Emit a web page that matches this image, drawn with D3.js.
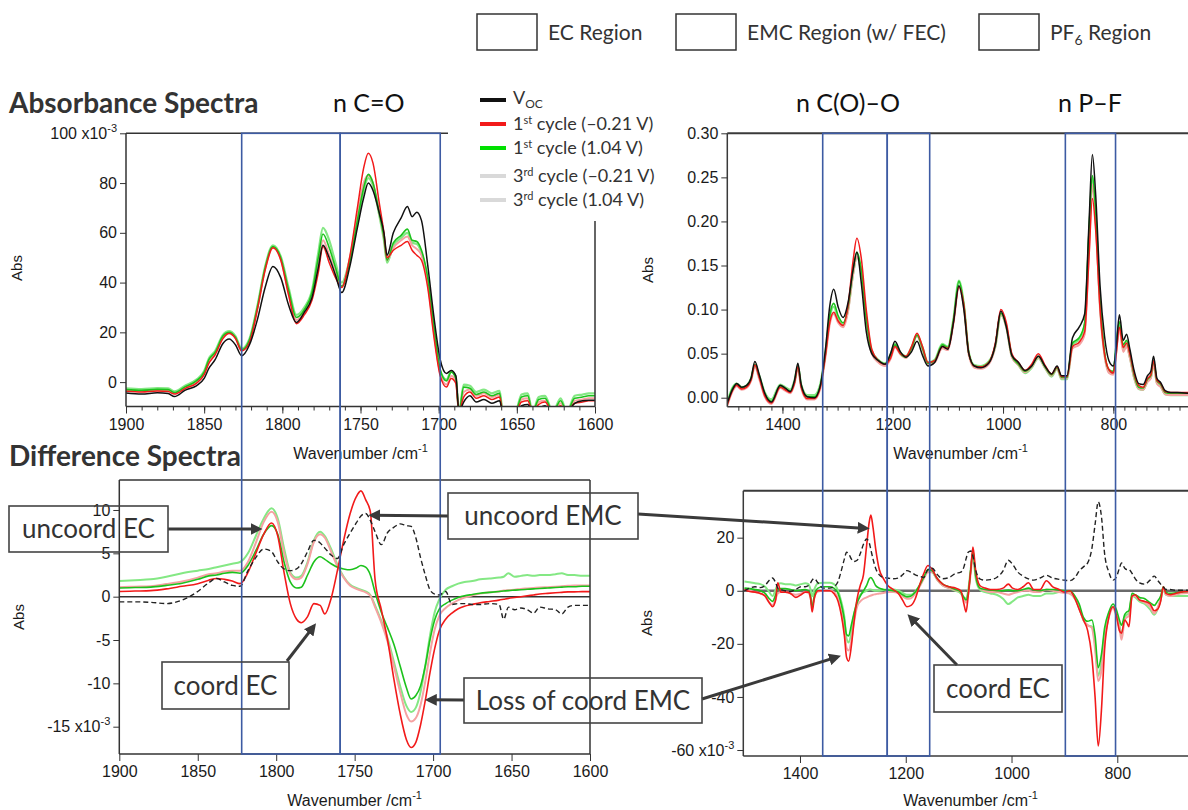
<!DOCTYPE html>
<html>
<head>
<meta charset="utf-8">
<script src="https://cdn.jsdelivr.net/npm/d3@7"></script>
<style>
  body { margin: 0; background: #fff; }
  svg text { font-family: "Liberation Sans", Arial, sans-serif; }
  svg text.cal { font-family: Lato, "Open Sans", sans-serif; }
</style>
</head>
<body>
<svg id="fig" width="1188" height="810"></svg>
<script>
(function () {
  'use strict';

  // ---- absorbance, C=O stretch region (x10^-3) ----
  var absCOWn = [
    1900, 1890, 1880, 1873, 1869, 1862, 1855, 1850, 1847, 1843,
    1838, 1834, 1830, 1826, 1821, 1816, 1811, 1806, 1801, 1796,
    1791, 1786, 1781, 1777, 1774, 1770, 1766, 1762, 1757, 1752,
    1748, 1745, 1742, 1738, 1735, 1733, 1729, 1724, 1720, 1717,
    1714, 1711, 1707, 1703, 1699, 1695, 1692, 1689, 1687, 1684,
    1680, 1676, 1671, 1666, 1661, 1659, 1656, 1651, 1647, 1643,
    1640, 1636, 1632, 1627, 1622, 1618, 1613, 1608, 1604, 1600];
  var absVoc = [
    -4.4, -4.8, -4.3, -4.6, -5.8, -3.2, -1.5, 1.5, 5.5, 9,
    15.5, 17.3, 15, 10.6, 15, 25, 38, 46.5, 42, 31,
    24, 28, 34, 46, 55, 50, 43, 36, 46, 62,
    74, 80, 77, 68, 60, 51, 60, 66, 70.6, 66.5,
    68.3, 65, 47, 26, 9, 3.5, 4.7, 2.5, -12, -8,
    -5.5, -8, -7, -8.5, -7.5, -12, -12, -12, -9.5, -9,
    -12, -10.5, -9.5, -12, -11, -12, -8.5, -7.5, -7.3, -7.3];
  var abs1Neg = [
    -3.7, -4.0, -3.6, -3.8, -4.8, -2.5, -0.5, 3, 7.5, 11,
    17.5, 19.5, 17.5, 12.5, 16, 29, 45, 54, 49, 35,
    23.5, 27, 33, 44, 54.5, 48, 42, 38, 50, 70,
    86, 92, 88, 72, 60, 50, 53, 55, 56.5, 53,
    51, 49, 38, 18, 2.5, -2, 1.5, -0.5, -12, -6,
    -4, -6.5, -5.5, -7, -6, -12, -12, -12, -8, -7.5,
    -12, -9, -8, -12, -9.5, -12, -8.5, -8, -7.5, -7.5];
  var abs1Pos = [
    -3, -3.3, -2.9, -3, -4.2, -1.8, 0.5, 4, 9, 12,
    18.5, 20, 18, 13, 17, 30, 46, 54.5, 50, 37,
    26, 29, 36, 50, 59.5, 54, 46, 38.5, 48, 65,
    78, 83.5, 80, 68, 58, 49, 56, 59, 61.5, 57,
    56.5, 53, 42, 22, 5, 0.5, 4, 1.5, -12, -2,
    -2.5, -5, -4, -5.5, -4.5, -12, -12, -12, -6, -5.5,
    -12, -7, -6.5, -12, -7.5, -12, -6.5, -6, -5.5, -5.5];
  var abs3Neg = [
    -3.4, -3.7, -3.3, -3.5, -4.5, -2.2, 0, 3.5, 8.5, 11.5,
    18, 19.8, 17.8, 13, 16.5, 29.5, 45.5, 54, 49.5, 36,
    25, 28, 34.5, 47, 57, 51, 44, 38.5, 49, 67,
    80, 83, 80, 68, 58, 49, 54, 57, 58.5, 55,
    53.5, 51, 40, 20, 3.5, -1, 2.5, 0.5, -12, -4,
    -3, -5.5, -4.5, -6, -5, -12, -12, -12, -7, -6.5,
    -12, -8, -7.5, -12, -8.5, -12, -7.5, -7, -6.5, -6.5];
  var abs3Pos = [
    -2.5, -2.8, -2.4, -2.5, -3.7, -1.3, 1, 4.5, 9.5, 12.5,
    19, 20.5, 18.5, 13.5, 17.5, 30.5, 46.5, 55, 50.5, 38,
    27, 30, 37, 52, 62, 57, 48, 40, 49, 64,
    77, 82, 79, 67, 57, 48, 55, 58, 60, 56,
    55.5, 52, 41, 21, 4.5, 1, 4.5, 2, -12, -1,
    -1.5, -4, -3, -4.5, -3.5, -12, -12, -12, -5, -4.5,
    -12, -6, -5.5, -12, -6.5, -12, -5.5, -5, -4.5, -4.5];

  // ---- absorbance, C(O)-O / P-F region ----
  var absFpWn = [
    1500, 1490, 1483, 1474, 1465, 1457, 1450, 1442, 1432, 1420,
    1404, 1395, 1386, 1378, 1372, 1366, 1355, 1342, 1332, 1322,
    1314, 1307, 1299, 1290, 1281, 1272, 1265, 1257, 1248, 1238,
    1226, 1214, 1204, 1196, 1186, 1176, 1166, 1156, 1146, 1136,
    1124, 1110, 1100, 1090, 1080, 1071, 1062, 1052, 1040, 1026,
    1014, 1004, 994, 984, 972, 960, 948, 936, 924, 912,
    902, 894, 884, 874, 862, 852, 844, 838, 832, 824,
    816, 808, 800, 795, 789, 782, 776, 770, 762, 754,
    746, 738, 732, 727, 721, 714, 706, 696, 684, 664];
  var fpVoc = [
    -0.006, 0.01, 0.016, 0.012, 0.014, 0.022, 0.041, 0.026, 0.005, -0.005,
    0.014, 0.011, 0.007, 0.02, 0.039, 0.015, 0.001, 0.0, 0.012, 0.055,
    0.105, 0.123, 0.103, 0.091, 0.108, 0.145, 0.165, 0.13, 0.075, 0.05,
    0.042, 0.038, 0.05, 0.064, 0.052, 0.046, 0.052, 0.064, 0.048, 0.036,
    0.04, 0.058, 0.055, 0.085, 0.127, 0.1, 0.05, 0.036, 0.034, 0.039,
    0.06, 0.098, 0.08, 0.048, 0.04, 0.031, 0.036, 0.047, 0.036, 0.027,
    0.036, 0.025, 0.025, 0.068, 0.08, 0.095, 0.2, 0.276, 0.23, 0.126,
    0.07, 0.042, 0.036, 0.055, 0.094, 0.065, 0.072, 0.055, 0.03, 0.016,
    0.015, 0.025, 0.03, 0.047, 0.022, 0.017, 0.008, 0.006, 0.006, 0.005];
  var fp1Neg = [
    -0.008, 0.009, 0.014, 0.01, 0.012, 0.02, 0.037, 0.023, 0.002, -0.006,
    0.012, 0.009, 0.006, 0.017, 0.035, 0.012, -0.001, -0.001, 0.01, 0.048,
    0.086, 0.097, 0.087, 0.082, 0.105, 0.155, 0.181, 0.158, 0.1, 0.055,
    0.042, 0.038, 0.045, 0.058, 0.05, 0.047, 0.058, 0.073, 0.058, 0.04,
    0.042, 0.058, 0.056, 0.085, 0.126, 0.105, 0.05, 0.036, 0.035, 0.04,
    0.062, 0.1, 0.085, 0.05, 0.04, 0.031, 0.038, 0.05, 0.037, 0.027,
    0.035, 0.024, 0.024, 0.058, 0.063, 0.075, 0.16, 0.226, 0.19, 0.1,
    0.05, 0.032, 0.028, 0.048, 0.08, 0.057, 0.062, 0.05, 0.027, 0.014,
    0.012, 0.022, 0.026, 0.042, 0.02, 0.016, 0.007, 0.006, 0.006, 0.006];
  var fp1Pos = [
    -0.007, 0.011, 0.015, 0.011, 0.013, 0.021, 0.038, 0.024, 0.004, -0.004,
    0.013, 0.01, 0.007, 0.018, 0.036, 0.013, 0.001, 0.001, 0.012, 0.05,
    0.094, 0.107, 0.093, 0.085, 0.103, 0.145, 0.165, 0.145, 0.09, 0.052,
    0.042, 0.038, 0.048, 0.06, 0.05, 0.046, 0.056, 0.071, 0.056, 0.039,
    0.042, 0.06, 0.057, 0.088, 0.132, 0.105, 0.05, 0.036, 0.035, 0.04,
    0.06, 0.096, 0.082, 0.048, 0.038, 0.03, 0.036, 0.047, 0.035, 0.026,
    0.034, 0.023, 0.023, 0.062, 0.068, 0.085, 0.19, 0.252, 0.21, 0.11,
    0.052, 0.032, 0.03, 0.06, 0.086, 0.06, 0.065, 0.05, 0.025, 0.012,
    0.011, 0.021, 0.025, 0.042, 0.019, 0.015, 0.006, 0.005, 0.005, 0.005];
  var fp3Neg = [
    -0.009, 0.008, 0.013, 0.009, 0.011, 0.019, 0.035, 0.021, 0.001, -0.007,
    0.011, 0.008, 0.005, 0.016, 0.033, 0.011, -0.002, -0.002, 0.009, 0.046,
    0.084, 0.095, 0.085, 0.08, 0.098, 0.14, 0.16, 0.14, 0.088, 0.05,
    0.04, 0.036, 0.044, 0.057, 0.049, 0.045, 0.056, 0.07, 0.055, 0.038,
    0.04, 0.056, 0.054, 0.084, 0.125, 0.102, 0.048, 0.034, 0.033, 0.038,
    0.058, 0.095, 0.08, 0.046, 0.037, 0.029, 0.035, 0.046, 0.034, 0.025,
    0.033, 0.022, 0.022, 0.056, 0.06, 0.072, 0.17, 0.242, 0.2, 0.1,
    0.048, 0.028, 0.026, 0.05, 0.078, 0.052, 0.058, 0.045, 0.022, 0.01,
    0.009, 0.018, 0.022, 0.038, 0.016, 0.012, 0.004, 0.003, 0.003, 0.003];
  var fp3Pos = [
    -0.005, 0.012, 0.016, 0.012, 0.014, 0.022, 0.037, 0.025, 0.006, -0.002,
    0.015, 0.012, 0.009, 0.02, 0.036, 0.015, 0.003, 0.003, 0.014, 0.052,
    0.092, 0.103, 0.09, 0.083, 0.1, 0.14, 0.16, 0.142, 0.09, 0.053,
    0.043, 0.039, 0.049, 0.061, 0.051, 0.047, 0.057, 0.071, 0.057, 0.04,
    0.043, 0.061, 0.058, 0.089, 0.133, 0.106, 0.051, 0.037, 0.036, 0.041,
    0.058, 0.094, 0.08, 0.047, 0.037, 0.028, 0.034, 0.045, 0.034, 0.024,
    0.033, 0.021, 0.021, 0.06, 0.066, 0.082, 0.185, 0.25, 0.205, 0.105,
    0.05, 0.03, 0.027, 0.055, 0.082, 0.055, 0.06, 0.046, 0.022, 0.01,
    0.009, 0.019, 0.023, 0.04, 0.017, 0.013, 0.004, 0.003, 0.003, 0.003];

  // ---- difference spectra, C=O region (x10^-3) ----
  var difCOWn = [
    1900, 1890, 1880, 1870, 1860, 1850, 1843, 1838, 1833, 1828,
    1823, 1818, 1813, 1808, 1803, 1799, 1795, 1791, 1787, 1784,
    1780, 1776, 1772, 1769, 1765, 1761, 1757, 1753, 1749, 1746,
    1743, 1740, 1737, 1733, 1729, 1725, 1721, 1717, 1714, 1711,
    1708, 1705, 1702, 1699, 1696, 1692, 1688, 1684, 1680, 1675,
    1670, 1664, 1658, 1655, 1652, 1648, 1644, 1640, 1636, 1632,
    1627, 1622, 1618, 1614, 1610, 1605, 1600];
  var dcoVoc = [
    -0.6, -0.6, -0.65, -0.8, -0.4, 0.6, 1.6, 2.1, 1.7, 1.3,
    1.2, 3.0, 4.5, 5.5, 5.2, 4.0, 3.2, 3.0, 3.2, 3.8,
    5.2, 6.5, 6.2, 5.6, 4.8, 4.4, 6.0, 7.3, 8.5, 9.3,
    9.6, 8.8, 7.5, 6.0, 7.4, 8.0, 8.4, 8.2, 8.1, 6.8,
    4.5, 2.5, 0.8, 0.3, 0.2, 0.6, -0.9, -0.8, -0.8, -0.9,
    -0.9, -0.8, -0.9, -2.6, -1.2, -1.5, -1.3, -1.5, -1.9, -1.2,
    -1.4, -1.5, -2.0, -1.2, -1.0, -1.0, -1.0];
  var dco1Neg = [
    0.6, 0.65, 0.7, 0.9, 1.2, 1.5, 1.9, 2.1, 2.0, 1.8,
    1.5, 2.8, 5.0, 7.2, 8.5, 7.0, 2.8, -0.8, -2.6, -3.0,
    -2.3, -0.8, -1.0, -2.0, -0.2, 3.0, 6.5, 9.5, 11.5, 12.2,
    11.2, 9.8, 2.0, -1.5, -5.0, -9.5, -13.5, -16.5, -17.4, -16.8,
    -14.8, -12.0, -8.8, -6.0, -3.9, -2.6, -1.9, -1.4, -1.1, -0.9,
    -0.7, -0.55, -0.4, -0.3, -0.2, -0.1, 0.0, 0.1, 0.2, 0.3,
    0.38, 0.45, 0.5, 0.55, 0.55, 0.58, 0.58];
  var dco1Pos = [
    1.0, 1.05, 1.1, 1.3, 1.55, 2.0, 2.4, 2.5, 2.7, 2.8,
    2.7, 3.6, 5.3, 7.2, 8.2, 7.2, 4.0, 1.7, 1.0, 1.1,
    2.5, 4.0, 4.6, 4.3, 3.8, 3.4, 3.2, 3.1, 3.3, 3.6,
    3.4, 2.5, 0.5, -1.8, -3.6, -5.5, -8.0, -10.5, -11.8, -11.4,
    -10.3, -8.0, -5.0, -2.7, -1.4, -0.8, -0.4, -0.1, 0.1, 0.25,
    0.4, 0.5, 0.6, 0.65, 0.7, 0.75, 0.8, 0.85, 0.9, 0.95,
    1.0, 1.05, 1.1, 1.15, 1.15, 1.2, 1.2];
  var dco3Neg = [
    1.1, 1.15, 1.2, 1.45, 1.75, 2.2, 2.6, 2.7, 2.9, 3.0,
    3.0, 4.0, 6.2, 8.6, 9.8, 8.6, 5.0, 2.6, 2.0, 2.2,
    3.8, 6.3, 7.2, 6.8, 5.2, 3.5, 2.2, 1.3, 0.9, 0.7,
    0.5, 0.1, -1.2, -3.0, -5.2, -8.0, -11.0, -13.6, -14.4, -14.0,
    -12.5, -9.8, -6.5, -3.8, -2.2, -1.3, -0.8, -0.4, -0.1, 0.15,
    0.35, 0.5, 0.6, 0.7, 0.75, 0.8, 0.9, 0.95, 1.0, 1.05,
    1.1, 1.15, 1.2, 1.25, 1.3, 1.3, 1.3];
  var dco3Pos = [
    1.8, 1.9, 2.0, 2.3, 2.7, 3.0, 3.2, 3.4, 3.6, 3.8,
    4.0, 5.0, 7.0, 9.0, 10.2, 9.0, 5.6, 2.8, 2.2, 2.4,
    4.0, 6.5, 7.5, 7.0, 5.5, 3.7, 2.3, 1.4, 1.0, 0.8,
    0.6, 0.2, -1.0, -2.8, -4.8, -7.5, -10.3, -12.6, -13.3, -12.8,
    -11.0, -8.0, -4.5, -1.8, -0.3, 0.8, 1.2, 1.5, 1.7, 1.8,
    2.0, 2.1, 2.2, 2.3, 2.7, 2.3, 2.4, 2.5, 2.4, 2.5,
    2.5, 2.6, 2.7, 2.5, 2.5, 2.4, 2.4];

  // ---- difference spectra, C(O)-O / P-F region (x10^-3) ----
  var difFpWn = [
    1505, 1495, 1485, 1475, 1466, 1458, 1452, 1446, 1442, 1436,
    1428, 1418, 1408, 1398, 1390, 1384, 1380, 1377, 1373, 1366,
    1356, 1344, 1336, 1328, 1322, 1316, 1312, 1308, 1303, 1298,
    1292, 1286, 1280, 1274, 1269, 1266, 1262, 1257, 1250, 1242,
    1234, 1224, 1214, 1206, 1198, 1190, 1182, 1174, 1166, 1158,
    1150, 1140, 1130, 1118, 1106, 1096, 1090, 1086, 1082, 1077,
    1073, 1068, 1060, 1050, 1040, 1028, 1016, 1006, 998, 988,
    978, 968, 958, 946, 934, 922, 910, 900, 890, 880,
    872, 864, 856, 848, 842, 836, 830, 824, 816, 808,
    802, 796, 792, 786, 782, 778, 772, 766, 758, 748,
    738, 730, 724, 718, 713, 708, 700, 690, 680, 666];
  var dfpVoc = [
    0.0, 1.0, 1.5, 1.2, 2.0, 4.0, 4.8, 3.0, 1.0, 0.5,
    0.0, -0.3, 0.5, 1.5, 1.5, 2.0, 3.0, 4.0, 4.6, 3.0,
    1.0, 1.0, 1.5, 3.5, 7.5, 12.0, 14.5, 14.0, 12.0, 11.0,
    11.5, 14.0, 17.5, 19.5, 18.0, 15.5, 12.0, 8.5, 6.0, 5.0,
    4.8, 4.5, 4.8, 6.0, 7.6, 7.0, 6.0, 5.5, 5.0, 8.0,
    8.5, 6.0, 4.5, 5.0, 6.5, 7.0, 9.0, 12.0, 14.5, 15.0,
    13.0, 8.0, 4.5, 4.0, 4.2, 5.0, 7.5, 11.5, 10.0, 7.0,
    5.5, 4.5, 4.0, 4.8, 5.8, 4.8, 4.3, 4.0, 3.8, 5.0,
    7.5, 9.0, 10.5, 16.0, 25.0, 33.5, 28.0, 14.0, 7.0, 4.0,
    5.0, 8.5, 10.5, 8.5, 8.0, 8.0, 6.5, 4.5, 3.0, 2.5,
    4.0, 5.5, 4.0, 2.5, 1.5, 0.5, 0.5, 0.2, 0.2, 0.2];
  var dfp1Neg = [
    0.5, -0.3, -0.5, -1.0, -2.0, -4.5, -6.0, -3.5, 3.0, -0.5,
    -0.5, -1.0, -2.5, -1.5, -0.5, -0.5, -3.0, -8.0, -3.0, 0.0,
    0.0, 0.0, -1.0, -4.0, -9.0, -17.0, -25.0, -26.5, -21.0, -12.0,
    -3.0, 2.0, 6.0, 17.0, 26.0, 28.5, 24.0, 16.0, 8.0, 4.5,
    2.0, 0.5, -1.0, -3.5, -6.0, -5.5, -3.0, 2.0, 6.5, 9.5,
    8.0, 4.5, 2.5, 1.5, 1.0, 0.0, -5.0, -8.0, -2.0, 8.0,
    16.5, 8.0, 2.0, 1.0, 0.5, 0.5, 1.0, 2.5, 1.0, 0.5,
    1.5, 3.0, 0.5, 0.5, 3.8, 1.5, 0.5, -0.5, 0.0, -3.0,
    -7.0, -11.0, -15.0, -25.0, -40.0, -58.5, -45.0, -22.0, -10.0, -6.0,
    -9.0, -15.0, -16.0, -11.0, -12.0, -13.5, -2.0, -1.5, -3.5, -4.0,
    -5.0, -7.5, -7.0, -4.0, 1.5, -1.0, -1.5, -1.0, -0.5, -0.3];
  var dfp1Pos = [
    1.0, 0.8, 0.5, 0.0, -1.0, -3.0, -4.0, -1.5, 0.5, 0.8,
    0.8, 0.5, 0.0, 0.3, 0.5, 0.0, -2.0, -6.5, -2.0, 1.0,
    1.5, 1.5, 1.0, -1.0, -5.0, -11.0, -16.5, -17.0, -13.0, -8.5,
    -4.5, -2.0, 0.0, 2.0, 4.5, 5.0, 4.0, 2.0, 1.0, 0.5,
    0.3, 0.0, -0.5, -1.5, -2.3, -2.0, -0.5, 2.0, 5.0, 8.0,
    7.5, 4.5, 2.5, 1.5, 0.5, -0.5, -2.5, -3.5, -1.0, 8.0,
    15.0, 6.0, 1.0, 0.5, 0.3, 0.0, 0.0, 0.3, 0.0, 0.0,
    0.5, 1.0, 0.3, 0.0, 0.5, 0.5, 0.3, 0.0, 0.0, -2.0,
    -5.0, -10.0, -11.5, -11.0, -17.0, -29.0, -24.0, -14.0, -8.0, -5.0,
    -7.0, -11.0, -13.0, -9.0, -8.0, -7.5, -1.0, -1.5, -2.5, -3.0,
    -4.5, -5.5, -4.0, -2.0, 1.5, -0.5, -1.0, -0.8, -0.5, -0.3];
  var dfp3Neg = [
    0.5, 0.0, -0.5, -1.0, -2.0, -4.5, -5.5, -3.0, -1.0, -0.5,
    -0.5, -1.0, -1.5, -1.0, -0.5, -0.8, -2.5, -5.5, -2.5, -0.3,
    0.0, 0.0, -0.5, -3.0, -8.0, -15.0, -21.5, -22.5, -19.0, -12.0,
    -6.0, -4.0, -3.0, -2.5, -2.0, -1.8, -1.5, -1.3, -1.0, -0.8,
    -0.5, -0.5, -1.0, -2.0, -3.0, -2.8, -1.0, 1.5, 4.5, 7.0,
    7.0, 4.0, 2.0, 1.0, 0.3, -0.5, -3.0, -4.5, -1.5, 7.0,
    14.0, 6.0, 1.0, 0.0, -0.5, -0.5, -1.0, -1.5, -1.0, -0.5,
    0.0, 0.0, -0.5, -0.5, 0.5, 0.0, -0.5, -0.8, -1.0, -3.0,
    -6.5, -11.0, -13.0, -14.0, -22.0, -34.0, -30.0, -18.0, -10.0, -6.5,
    -9.5, -14.0, -18.5, -11.0, -10.0, -9.5, -2.0, -2.0, -3.5, -4.5,
    -6.0, -8.5, -6.5, -3.0, 1.0, -1.5, -2.0, -1.5, -1.0, -0.8];
  var dfp3Pos = [
    3.5, 3.2, 2.8, 2.5, 1.5, -0.5, -2.0, 0.5, 2.5, 2.8,
    2.5, 2.5, 2.0, 2.5, 2.8, 2.5, 0.5, -2.0, 0.5, 2.8,
    3.0, 3.0, 2.5, 0.0, -4.0, -10.0, -18.0, -19.5, -16.0, -9.5,
    -4.0, -1.5, -0.5, 0.0, 0.5, 0.5, 0.2, 0.0, 0.0, 0.3,
    0.5, 0.5, 0.0, -0.8, -1.5, -1.5, -0.3, 2.0, 5.0, 7.5,
    7.0, 4.0, 2.0, 1.0, 0.0, -1.0, -2.5, -3.0, 0.0, 8.5,
    14.0, 5.0, 0.5, -0.5, -1.0, -1.5, -3.0, -5.0, -4.0, -2.5,
    -2.0, -1.5, -2.0, -2.0, -1.0, -1.0, -0.5, -0.5, -1.0, -3.0,
    -6.5, -11.0, -13.0, -13.5, -20.0, -32.0, -27.0, -16.0, -9.0, -6.0,
    -9.0, -13.0, -17.0, -10.0, -9.0, -8.5, -2.0, -2.5, -4.0, -5.0,
    -7.0, -9.0, -7.0, -3.5, 0.5, -1.5, -2.0, -2.0, -2.0, -2.0];

  // ---- region boxes (wavenumber edges) and labels ----
  var coRegions = [[1826, 1763], [1763, 1699]];
  var fpRegions = [[1327, 1210], [1210, 1133], [887, 796]];
  var regionNames = ['EC Region', 'EMC Region (w/ FEC)', 'PF6 Region'];
  var legendNames = ['Voc', '1st cycle (\u20130.21 V)', '1st cycle (1.04 V)',
                     '3rd cycle (\u20130.21 V)', '3rd cycle (1.04 V)'];
  var bandNames = ['n C=O', 'n C(O)\u2013O', 'n P\u2013F'];

  var colVoc = '#111', colRed = '#f21a1a', colGreen = '#1cc21c',
      colLRed = '#f5a2a2', colLGreen = '#84e884', colBlue = '#3d5ba3',
      colInk = '#333';

  var svg = d3.select('#fig');
  svg.append('rect').attr('width', 1188).attr('height', 810).attr('fill', '#fff');
  var defs = svg.append('defs');
  defs.append('marker')
      .attr('id', 'arrowHead').attr('viewBox', '0 0 10 10')
      .attr('refX', 7).attr('refY', 5)
      .attr('markerWidth', 4).attr('markerHeight', 4)
      .attr('orient', 'auto')
      .append('path').attr('d', 'M0,0L10,5L0,10z').attr('fill', '#3a3a3a');

  var clipCount = 0;

  function sup(textSel, base, s, size) {
    textSel.text(base);
    textSel.append('tspan').attr('dy', -7).attr('font-size', size || 11).text(s);
  }

  // plain hyphen for negatives, as on the original axes
  var fmtInt = function (d) { return String(d); };
  var fmt2 = function (d) { return d.toFixed(2); };

  function panel(o) {
    var x = d3.scaleLinear().domain(o.xDomain).range([o.left, o.right]);
    var y = d3.scaleLinear().domain(o.yDomain).range([o.bottom, o.top]);
    var g = svg.append('g');
    var id = 'clip' + (clipCount++);
    defs.append('clipPath').attr('id', id).append('rect')
        .attr('x', o.left).attr('y', o.top)
        .attr('width', o.right - o.left).attr('height', o.bottom - o.top);

    if (o.zero) {
      g.append('line')
          .attr('x1', o.left).attr('x2', o.right)
          .attr('y1', y(0)).attr('y2', y(0))
          .attr('stroke', o.zero.color).attr('stroke-width', o.zero.width);
    }

    var line = d3.line()
        .x(function (d) { return x(d[0]); })
        .y(function (d) { return y(d[1]); })
        .curve(d3.curveMonotoneX);
    var lines = g.append('g').attr('clip-path', 'url(#' + id + ')');
    o.series.forEach(function (s) {
      var pts = o.wn.map(function (w, i) { return [w, s.values[i]]; })
          .filter(function (d) { return d[1] != null; });
      lines.append('path').datum(pts)
          .attr('d', line)
          .attr('fill', 'none')
          .attr('stroke', s.color)
          .attr('stroke-width', s.width)
          .attr('stroke-dasharray', s.dash || null)
          .attr('stroke-linejoin', 'round');
    });

    // frame
    var fr = g.append('g').attr('stroke', o.frameColor || '#333').attr('fill', 'none');
    fr.append('line').attr('x1', o.left).attr('x2', o.left).attr('y1', o.top).attr('y2', o.bottom).attr('stroke-width', 1.5);
    fr.append('line').attr('x1', o.left).attr('x2', o.right).attr('y1', o.bottom).attr('y2', o.bottom).attr('stroke-width', 1.5);
    fr.append('line').attr('x1', o.left).attr('x2', o.right).attr('y1', o.top).attr('y2', o.top).attr('stroke-width', o.topWidth || 1.5);
    if (o.rightEdge) {
      fr.append('line').attr('x1', o.right).attr('x2', o.right).attr('y1', o.top).attr('y2', o.bottom).attr('stroke-width', 1.5);
    }

    // x axis
    if (o.xMinor) {
      g.append('g').attr('transform', 'translate(0,' + o.bottom + ')')
          .call(d3.axisBottom(x).tickValues(o.xMinor).tickSize(4).tickFormat(''))
          .call(function (a) { a.select('.domain').remove(); a.selectAll('line').attr('stroke', '#333'); });
    }
    var xa = g.append('g').attr('transform', 'translate(0,' + o.bottom + ')')
        .call(d3.axisBottom(x).tickValues(o.xTicks).tickSize(7).tickPadding(5).tickFormat(fmtInt));
    xa.select('.domain').remove();
    xa.selectAll('line').attr('stroke', '#333');
    xa.selectAll('text').attr('font-size', 16).attr('fill', '#1a1a1a')
        .attr('font-family', '"Liberation Sans", Arial, sans-serif');

    // y axis
    var ya = g.append('g').attr('transform', 'translate(' + o.left + ',0)')
        .call(d3.axisLeft(y).tickValues(o.yTicks).tickSize(6).tickPadding(3).tickFormat(o.yFormat));
    ya.select('.domain').remove();
    ya.selectAll('line').attr('stroke', '#333');
    ya.selectAll('text').attr('font-size', 16).attr('fill', '#1a1a1a')
        .attr('font-family', '"Liberation Sans", Arial, sans-serif');
    ya.selectAll('.tick text').filter(function (d) { return d === o.yExp; })
        .each(function (d) { sup(d3.select(this), o.yFormat(d) + ' x10', '-3'); });

    // axis titles
    g.append('text')
        .attr('transform', 'translate(' + o.absX + ',' + o.absY + ') rotate(-90)')
        .attr('text-anchor', 'middle').attr('font-size', 15).attr('fill', '#1a1a1a')
        .text('Abs');
    var wt = g.append('text')
        .attr('x', (o.left + o.right) / 2 + (o.wnShift || 0)).attr('y', o.wnY)
        .attr('text-anchor', 'middle').attr('font-size', 16).attr('fill', '#1a1a1a');
    sup(wt, 'Wavenumber /cm', '-1');

    return {x: x, y: y, top: o.top, bottom: o.bottom};
  }

  var absCO = panel({
    left: 126, right: 595, top: 133.3, bottom: 406.5,
    xDomain: [1900, 1600], yDomain: [-9.8, 100],
    xTicks: d3.range(1900, 1599, -50), xMinor: d3.range(1890, 1600, -10),
    yTicks: [0, 20, 40, 60, 80, 100], yFormat: fmtInt, yExp: 100,
    rightEdge: true, absX: 22, absY: 268, wnY: 459,
    wn: absCOWn,
    series: [
      {values: abs3Pos, color: colLGreen, width: 2.2},
      {values: abs3Neg, color: colLRed, width: 2},
      {values: abs1Pos, color: colGreen, width: 1.6},
      {values: abs1Neg, color: colRed, width: 1.5},
      {values: absVoc, color: colVoc, width: 1.5}
    ]
  });

  var absFp = panel({
    left: 727.3, right: 1188, top: 133.3, bottom: 406.7,
    xDomain: [1500, 664.6], yDomain: [-0.0102, 0.30],
    xTicks: [1400, 1200, 1000, 800], xMinor: d3.range(1480, 665, -20),
    yTicks: [0, 0.05, 0.10, 0.15, 0.20, 0.25, 0.30], yFormat: fmt2,
    topWidth: 2, frameColor: '#3a3a3a',
    absX: 653, absY: 270, wnY: 459, wnShift: 3,
    wn: absFpWn,
    series: [
      {values: fp3Pos, color: colLGreen, width: 2.2},
      {values: fp3Neg, color: colLRed, width: 2},
      {values: fp1Pos, color: colGreen, width: 1.6},
      {values: fp1Neg, color: colRed, width: 1.5},
      {values: fpVoc, color: colVoc, width: 1.5}
    ]
  });

  var difCO = panel({
    left: 119.3, right: 590, top: 480, bottom: 754,
    xDomain: [1900, 1600], yDomain: [-18.15, 13.46],
    xTicks: d3.range(1900, 1599, -50),
    yTicks: [-15, -10, -5, 0, 5, 10], yFormat: fmtInt, yExp: -15,
    rightEdge: true, zero: {color: '#333', width: 1.5},
    absX: 24, absY: 617, wnY: 806,
    wn: difCOWn,
    series: [
      {values: dco3Pos, color: colLGreen, width: 2},
      {values: dco3Neg, color: colLRed, width: 2},
      {values: dco1Pos, color: colGreen, width: 1.6},
      {values: dco1Neg, color: colRed, width: 1.6},
      {values: dcoVoc, color: '#222', width: 1.4, dash: '5,3'}
    ]
  });

  var difFp = panel({
    left: 743.3, right: 1188, top: 490.7, bottom: 756,
    xDomain: [1507.2, 666.3], yDomain: [-62.25, 37.7],
    xTicks: [1400, 1200, 1000, 800],
    yTicks: [-60, -40, -20, 0, 20], yFormat: fmtInt, yExp: -60,
    topWidth: 2, frameColor: '#3a3a3a', zero: {color: '#6a6a6a', width: 2.5},
    absX: 652, absY: 623, wnY: 806, wnShift: 5,
    wn: difFpWn,
    series: [
      {values: dfp3Pos, color: colLGreen, width: 2},
      {values: dfp3Neg, color: colLRed, width: 2},
      {values: dfp1Pos, color: colGreen, width: 1.6},
      {values: dfp1Neg, color: colRed, width: 1.6},
      {values: dfpVoc, color: '#222', width: 1.4, dash: '5,3'}
    ]
  });

  // ---- series legend (white block over the top-left frame corner) ----
  svg.append('rect').attr('x', 448).attr('y', 86).attr('width', 150).attr('height', 135).attr('fill', '#fff');
  var legRows = [100, 124, 148, 176, 200];
  var legLine = [colVoc, colRed, '#00e000', '#d9d9d9', '#d9d9d9'];
  var leg = svg.append('g');
  legendNames.forEach(function (name, i) {
    leg.append('line').attr('x1', 480).attr('x2', 506)
        .attr('y1', legRows[i]).attr('y2', legRows[i])
        .attr('stroke', legLine[i]).attr('stroke-width', 4);
    var t = leg.append('text').attr('class', 'cal')
        .attr('x', 513).attr('y', legRows[i] + 6)
        .attr('font-size', 18).attr('fill', colInk);
    if (i === 0) {
      t.attr('y', legRows[i] + 4).text('V');
      t.append('tspan').attr('dy', 4).attr('font-size', 12).text('OC');
    } else {
      var m = name.match(/^(\d)(st|rd)(.*)$/);
      t.text(m[1]);
      t.append('tspan').attr('dy', -6).attr('font-size', 11).text(m[2]);
      t.append('tspan').attr('dy', 6).text(m[3]);
    }
  });

  // ---- region boxes through both rows ----
  var regs = svg.append('g').attr('fill', 'none').attr('stroke', colBlue).attr('stroke-width', 1.6);
  coRegions.forEach(function (r) {
    regs.append('rect')
        .attr('x', absCO.x(r[0])).attr('y', absCO.top)
        .attr('width', absCO.x(r[1]) - absCO.x(r[0]))
        .attr('height', difCO.bottom - absCO.top);
  });
  fpRegions.forEach(function (r) {
    regs.append('rect')
        .attr('x', absFp.x(r[0])).attr('y', absFp.top)
        .attr('width', absFp.x(r[1]) - absFp.x(r[0]))
        .attr('height', difFp.bottom - absFp.top);
  });

  // ---- region key at the top ----
  var keyX = [477, 676, 979];
  var key = svg.append('g');
  regionNames.forEach(function (name, i) {
    key.append('rect').attr('x', keyX[i]).attr('y', 14).attr('width', 60).attr('height', 36)
        .attr('fill', 'none').attr('stroke', colInk).attr('stroke-width', 1.5);
    var t = key.append('text').attr('class', 'cal')
        .attr('x', keyX[i] + 71).attr('y', 40).attr('font-size', 21).attr('fill', colInk);
    if (name.indexOf('PF6') === 0) {
      t.text('PF');
      t.append('tspan').attr('dy', 5).attr('font-size', 14).text('6');
      t.append('tspan').attr('dy', -5).text(name.slice(3));
    } else {
      t.text(name);
    }
  });

  // ---- titles ----
  svg.append('text').attr('class', 'cal').attr('x', 9).attr('y', 113)
      .attr('font-size', 28).attr('font-weight', 700).attr('fill', colInk).text('Absorbance Spectra');
  svg.append('text').attr('class', 'cal').attr('x', 9).attr('y', 466)
      .attr('font-size', 28).attr('font-weight', 700).attr('fill', colInk).text('Difference Spectra');
  var bandX = [333, 796, 1058];
  bandNames.forEach(function (b, i) {
    svg.append('text').attr('class', 'cal').attr('x', bandX[i]).attr('y', 112)
        .attr('font-size', 25).attr('fill', '#111').text(b);
  });

  // ---- callouts ----
  var callouts = [
    {text: 'uncoord EC', box: [9, 506, 159, 46],
     arrows: [{from: [168, 529], p: difCO, to: [1811, 7.8]}]},
    {text: 'coord EC', box: [162, 662, 127, 47],
     arrows: [{from: [287, 661], p: difCO, to: [1776, -3.4]}]},
    {text: 'uncoord EMC', box: [448, 493, 190, 46],
     arrows: [{from: [448, 516], p: difCO, to: [1739, 9.4]},
              {from: [638, 514], p: difFp, to: [1275, 23.5]}]},
    {text: 'Loss of coord EMC', box: [464, 678, 238, 45],
     arrows: [{from: [464, 700], p: difCO, to: [1703, -11.9]},
              {from: [702, 699], p: difFp, to: [1329, -24.9]}]},
    {text: 'coord EC', box: [934, 665, 128, 47],
     arrows: [{from: [957, 665], p: difFp, to: [1192, -9.8]}]}
  ];
  var co = svg.append('g');
  callouts.forEach(function (c) {
    c.arrows.forEach(function (a) {
      co.append('line')
          .attr('x1', a.from[0]).attr('y1', a.from[1])
          .attr('x2', a.p.x(a.to[0])).attr('y2', a.p.y(a.to[1]))
          .attr('stroke', '#3a3a3a').attr('stroke-width', 3)
          .attr('marker-end', 'url(#arrowHead)');
    });
    co.append('rect').attr('x', c.box[0]).attr('y', c.box[1])
        .attr('width', c.box[2]).attr('height', c.box[3])
        .attr('fill', 'none').attr('stroke', '#444').attr('stroke-width', 1.6);
    co.append('text').attr('class', 'cal')
        .attr('x', c.box[0] + c.box[2] / 2).attr('y', c.box[1] + c.box[3] / 2 + 9)
        .attr('text-anchor', 'middle').attr('font-size', 26).attr('fill', colInk)
        .text(c.text);
  });
}());
</script>
</body>
</html>
